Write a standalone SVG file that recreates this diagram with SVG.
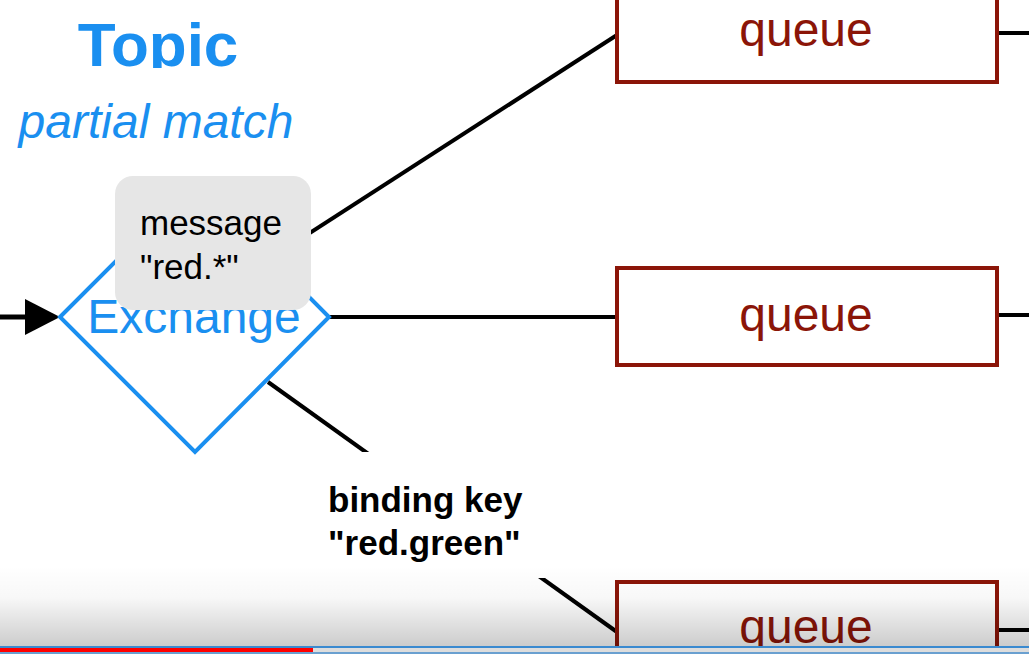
<svg xmlns="http://www.w3.org/2000/svg" width="1029" height="654" viewBox="0 0 1029 654">
<defs>
<style>
.blue{fill:#1a8ff0;font-family:"Liberation Sans",Arial,sans-serif}
.q{fill:#fff;stroke:#8b1508;stroke-width:4}
.qt{fill:#8b1508;font-family:"Liberation Sans",Arial,sans-serif;font-size:48px;text-anchor:middle}
.ln{stroke:#000;stroke-width:4;fill:none}
.blk{fill:#000;font-family:"Liberation Sans",Arial,sans-serif}
</style>
<clipPath id="topclip"><rect x="0" y="0" width="400" height="68"/></clipPath>
<linearGradient id="shade" x1="0" y1="0" x2="0" y2="1">
<stop offset="0" stop-color="#000" stop-opacity="0"/>
<stop offset="0.4" stop-color="#000" stop-opacity="0.03"/>
<stop offset="1" stop-color="#000" stop-opacity="0.2"/>
</linearGradient>
</defs>
<rect width="1029" height="654" fill="#fff"/>
<g id="title">
<text class="blue" x="158" y="66" font-size="62" font-weight="bold" text-anchor="middle" clip-path="url(#topclip)">Topic</text>
<text class="blue" x="156" y="138" font-size="48" font-style="italic" text-anchor="middle">partial match</text>
</g>
<g id="connectors">
<line class="ln" x1="271" y1="258" x2="617" y2="35"/>
<line class="ln" x1="329" y1="317" x2="617" y2="317"/>
<line class="ln" x1="268" y1="382" x2="617" y2="632"/>
<line class="ln" x1="997" y1="33" x2="1029" y2="33"/>
<line class="ln" x1="997" y1="315" x2="1029" y2="315"/>
<line class="ln" x1="997" y1="630" x2="1029" y2="630"/>
<line x1="0" y1="317" x2="30" y2="317" stroke="#000" stroke-width="5"/>
<path d="M25,299 L60,317 L25,335 Z" fill="#000"/>
</g>
<g id="exchange">
<polygon points="60,317 195,182 329,317 195,452" fill="#fff" stroke="#1a8ff0" stroke-width="4"/>
<text class="blue" x="194" y="333" font-size="48" text-anchor="middle">Exchange</text>
</g>
<g id="message">
<rect x="115" y="176" width="196" height="134" rx="18" fill="#e6e6e6"/>
<text class="blk" x="140" y="235" font-size="35">message</text>
<text class="blk" x="140" y="279" font-size="35">"red.*"</text>
</g>
<g id="binding">
<rect x="303" y="452" width="245" height="126" fill="#fff"/>
<text class="blk" x="328" y="512" font-size="35" font-weight="bold">binding key</text>
<text class="blk" x="328" y="555" font-size="35" font-weight="bold">"red.green"</text>
</g>
<g id="queue1">
<rect class="q" x="617" y="-20" width="380" height="102"/>
<text class="qt" x="806" y="46">queue</text>
</g>
<g id="queue2">
<rect class="q" x="617" y="268" width="380" height="97"/>
<text class="qt" x="806" y="331">queue</text>
</g>
<g id="queue3">
<rect class="q" x="617" y="582" width="380" height="97"/>
<text class="qt" x="806" y="643">queue</text>
</g>
<g id="player">
<rect x="0" y="566" width="1029" height="80" fill="url(#shade)"/>
<rect x="0" y="646" width="1029" height="2" fill="#3a8ad0"/>
<rect x="0" y="648" width="1029" height="4" fill="#ddd"/>
<rect x="0" y="648" width="313" height="4" fill="#f00"/>
<rect x="0" y="652" width="1029" height="2" fill="#6aa0d0"/>
</g>
</svg>
